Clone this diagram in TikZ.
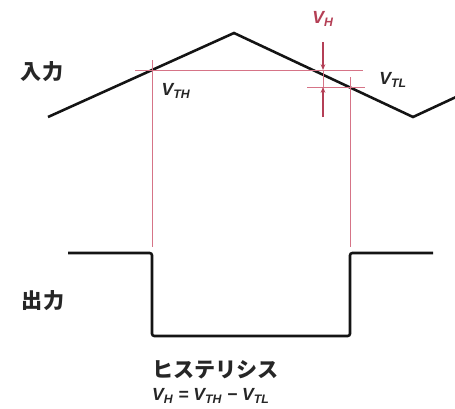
\documentclass[tikz,border=0pt]{standalone}
\usepackage{fontspec}
\usepackage{tikz}
\usetikzlibrary{arrows.meta, positioning, calc}
\newfontfamily\jpfont{Noto Sans CJK JP}
\newfontfamily\labelfont{Liberation Sans}
\definecolor{levelred}{RGB}{200,70,95}
\definecolor{waveblack}{RGB}{20,20,20}
\tikzset{
  wave/.style={draw=waveblack, line width=2.2pt, line join=miter},
  level/.style={draw=levelred!75, line width=0.7pt},
  marker/.style={draw=levelred!90!black, line width=0.9pt,
                 -{Stealth[length=5pt, width=4pt]}},
  jplabel/.style={font=\jpfont\bfseries\fontsize{18}{20}\selectfont,
                  inner sep=0pt, text=black!85},
  vlabel/.style={font=\labelfont\bfseries\itshape\fontsize{15}{17}\selectfont,
                 inner sep=0pt, text=black!85}
}
\begin{document}
\begin{tikzpicture}[x=0.03cm, y=-0.03cm]
  \useasboundingbox (0,0) rectangle (455,408);

  %% Input waveform
  \coordinate (inStart)  at (48,117);
  \coordinate (inPeak)   at (234,33);
  \coordinate (inTrough) at (413,117);
  \coordinate (inEnd)    at (456,97);
  \draw[wave] (inStart) -- (inPeak) -- (inTrough) -- (inEnd);

  %% Threshold crossings
  \coordinate (thH) at (152,70);
  \coordinate (thL) at (350,87);
  \coordinate (vhX) at (323,0);

  %% Output waveform
  \coordinate (outStart) at (68,253);
  \coordinate (outEnd)   at (433,253);
  \coordinate (outLow)   at (0,336);
  \draw[wave, rounded corners=2pt] (outStart) -- (thH |- outStart)
    -- (thH |- outLow) -- (thL |- outLow) -- (thL |- outEnd) -- (outEnd);

  %% Threshold levels
  \draw[level] ($(thH)+(-17,0)$) -- ++(228,0);
  \draw[level] ($(thL)+(-43,0)$) -- ++(58,0);
  \draw[level] ($(thH)+(0,-10)$) -- ($(thH |- outStart)+(0,-6)$);
  \draw[level] ($(thL)+(0,-10)$) -- ($(thL |- outEnd)+(0,-6)$);

  %% Hysteresis marker
  \draw[marker] (vhX |- 0,42) -- (vhX |- thH);
  \draw[marker] (vhX |- 0,117) -- (vhX |- thL);
  \draw[level] (vhX |- thH) -- (vhX |- thL);

  %% Labels
  \node[jplabel] (inLabel)  at (42,72)  {入力};
  \node[jplabel] (outLabel) at (43,301) {出力};
  \node[vlabel, text=levelred!90!black] (vhLabel) at (323,19)
    {V\textsubscript{H}};
  \node[vlabel] (thHLabel) at (176,91) {V\textsubscript{TH}};
  \node[vlabel] (thLLabel) at (393,80) {V\textsubscript{TL}};
  \node[jplabel, anchor=west] (hysLabel) at (152,370) {ヒステリシス};
  \node[vlabel, anchor=west] (hysEq) at (152,396)
    {V\textsubscript{H} = V\textsubscript{TH} − V\textsubscript{TL}};

\end{tikzpicture}
\end{document}
